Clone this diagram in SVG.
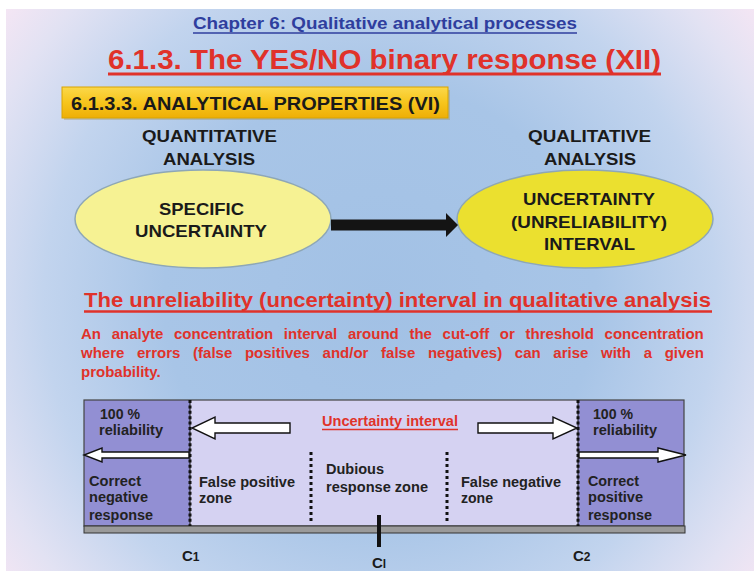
<svg xmlns="http://www.w3.org/2000/svg" width="754" height="571" viewBox="0 0 754 571">
<defs>
<radialGradient id="bg" gradientUnits="userSpaceOnUse" cx="380" cy="300" r="480">
<stop offset="0" stop-color="#a2c1e5"/>
<stop offset="0.45" stop-color="#a8c5e7"/>
<stop offset="0.7" stop-color="#c2d4ee"/>
<stop offset="0.88" stop-color="#e2e2f3"/>
<stop offset="1" stop-color="#f6e6f4"/>
</radialGradient>
<linearGradient id="banner" x1="0" y1="0" x2="0" y2="1">
<stop offset="0" stop-color="#fbd84a"/>
<stop offset="0.5" stop-color="#f7c51c"/>
<stop offset="1" stop-color="#eeae06"/>
</linearGradient>
<style>
.t{font-family:"Liberation Sans",Arial,sans-serif;font-weight:bold}
.red{fill:#e0322a}
.dk{fill:#1a1a1a}
.box{fill:#222;font-size:14px}
.warrow{fill:#fff;stroke:#111;stroke-width:1.4;stroke-linejoin:miter}
.dots{stroke:#111;stroke-width:3;stroke-dasharray:3 3;fill:none}
.cdots{stroke:#111;stroke-width:3;stroke-dasharray:3 2.4;fill:none}
</style>
</defs>
<rect x="0" y="0" width="754" height="571" fill="#fff"/>
<rect x="6" y="9" width="748" height="562" fill="url(#bg)"/>

<g id="titles">
<text class="t" x="193" y="29" font-size="17" fill="#2f3e9e" textLength="384" lengthAdjust="spacingAndGlyphs">Chapter 6: Qualitative analytical processes</text>
<line x1="193" y1="33" x2="577" y2="33" stroke="#2f3e9e" stroke-width="1.6"/>
<text class="t red" x="108" y="69" font-size="28" textLength="553" lengthAdjust="spacingAndGlyphs">6.1.3. The YES/NO binary response (XII)</text>
<line x1="108" y1="74" x2="661" y2="74" stroke="#e0322a" stroke-width="3.2"/>
</g>

<g id="banner">
<rect x="64" y="90" width="386" height="30" fill="#9a8a50" opacity="0.35"/>
<rect x="62" y="87" width="386" height="31" fill="url(#banner)" stroke="#d9a400" stroke-width="1"/>
<text class="t dk" x="71" y="110" font-size="18" textLength="369" lengthAdjust="spacingAndGlyphs">6.1.3.3. ANALYTICAL PROPERTIES (VI)</text>
</g>

<g id="quantitative-label">
<text class="t dk" x="142" y="142" font-size="17" textLength="135" lengthAdjust="spacingAndGlyphs">QUANTITATIVE</text>
<text class="t dk" x="163" y="165" font-size="17" textLength="92" lengthAdjust="spacingAndGlyphs">ANALYSIS</text>
</g>
<g id="qualitative-label">
<text class="t dk" x="528" y="142" font-size="17" textLength="123" lengthAdjust="spacingAndGlyphs">QUALITATIVE</text>
<text class="t dk" x="544" y="165" font-size="17" textLength="92" lengthAdjust="spacingAndGlyphs">ANALYSIS</text>
</g>

<g id="specific-uncertainty">
<ellipse cx="203" cy="219" rx="128" ry="49" fill="#f6f293" stroke="#8ea7b6" stroke-width="1.5"/>
<text class="t dk" x="159" y="215" font-size="17" textLength="85" lengthAdjust="spacingAndGlyphs">SPECIFIC</text>
<text class="t dk" x="135" y="237" font-size="17" textLength="132" lengthAdjust="spacingAndGlyphs">UNCERTAINTY</text>
</g>
<g id="uncertainty-interval">
<ellipse cx="585" cy="219" rx="128" ry="49" fill="#ebe02f" stroke="#8ea7b6" stroke-width="1.5"/>
<text class="t dk" x="523" y="205" font-size="17" textLength="132" lengthAdjust="spacingAndGlyphs">UNCERTAINTY</text>
<text class="t dk" x="511" y="228" font-size="17" textLength="156" lengthAdjust="spacingAndGlyphs">(UNRELIABILITY)</text>
<text class="t dk" x="544" y="250" font-size="17" textLength="91" lengthAdjust="spacingAndGlyphs">INTERVAL</text>
</g>

<g id="connectors">
<polygon points="331,219.5 446,219.5 446,213 458,225 446,237 446,230.5 331,230.5" fill="#141414"/>
</g>

<g id="definition">
<text class="t red" x="84" y="307" font-size="21" textLength="627" lengthAdjust="spacingAndGlyphs">The unreliability (uncertainty) interval in qualitative analysis</text>
<line x1="84" y1="311.5" x2="712" y2="311.5" stroke="#e0322a" stroke-width="2.6"/>
<text class="t red" x="81" y="339" font-size="15" word-spacing="6.5">An analyte concentration interval around the cut-off or threshold concentration</text>
<text class="t red" x="81" y="358" font-size="15" word-spacing="8.5">where errors (false positives and/or false negatives) can arise with a given</text>
<text class="t red" x="81" y="377" font-size="15">probability.</text>
</g>

<g id="interval-scale">
<rect x="84" y="400" width="106" height="126" fill="#928fd3"/>
<rect x="190" y="400" width="388" height="126" fill="#d5d2f2"/>
<rect x="578" y="400" width="106" height="126" fill="#928fd3"/>
<rect x="84" y="400" width="600" height="126" fill="none" stroke="#444" stroke-width="1.2"/>
<rect x="84" y="526" width="601" height="7" fill="#9a9a9a" stroke="#333" stroke-width="1"/>
<line x1="190" y1="400" x2="190" y2="526" stroke="#111" stroke-width="1"/>
<line x1="190" y1="400" x2="190" y2="526" class="cdots"/>
<line x1="578" y1="400" x2="578" y2="526" stroke="#111" stroke-width="1"/>
<line x1="578" y1="400" x2="578" y2="526" class="cdots"/>
<line x1="311" y1="452" x2="311" y2="523" class="dots"/>
<line x1="447" y1="452" x2="447" y2="523" class="dots"/>
<line x1="379" y1="515" x2="379" y2="547" stroke="#111" stroke-width="4"/>

<polygon class="warrow" points="290,423 215,423 215,417 192,428 215,439 215,433 290,433"/>
<polygon class="warrow" points="478,423 553,423 553,417 577,428 553,439 553,433 478,433"/>
<polygon class="warrow" points="189,452 102,452 102,448 84,455 102,462 102,458 189,458"/>
<polygon class="warrow" points="579,452 658,452 658,448 686,455 658,462 658,458 579,458"/>

<text class="t red" x="322" y="426" font-size="14" textLength="136" lengthAdjust="spacingAndGlyphs">Uncertainty interval</text>
<line x1="322" y1="429.5" x2="458" y2="429.5" stroke="#e0322a" stroke-width="1.6"/>

<text class="t box" x="100" y="419" textLength="40" lengthAdjust="spacingAndGlyphs">100 %</text>
<text class="t box" x="99" y="435" textLength="64" lengthAdjust="spacingAndGlyphs">reliability</text>
<text class="t box" x="89" y="486" textLength="52" lengthAdjust="spacingAndGlyphs">Correct</text>
<text class="t box" x="89" y="502" textLength="59" lengthAdjust="spacingAndGlyphs">negative</text>
<text class="t box" x="89" y="520" textLength="64" lengthAdjust="spacingAndGlyphs">response</text>

<text class="t box" x="199" y="487" textLength="96" lengthAdjust="spacingAndGlyphs">False positive</text>
<text class="t box" x="199" y="503" textLength="33" lengthAdjust="spacingAndGlyphs">zone</text>

<text class="t box" x="326" y="474" textLength="58" lengthAdjust="spacingAndGlyphs">Dubious</text>
<text class="t box" x="326" y="492" textLength="102" lengthAdjust="spacingAndGlyphs">response zone</text>

<text class="t box" x="461" y="487" textLength="100" lengthAdjust="spacingAndGlyphs">False negative</text>
<text class="t box" x="461" y="503" textLength="32" lengthAdjust="spacingAndGlyphs">zone</text>

<text class="t box" x="593" y="419" textLength="40" lengthAdjust="spacingAndGlyphs">100 %</text>
<text class="t box" x="593" y="435" textLength="64" lengthAdjust="spacingAndGlyphs">reliability</text>
<text class="t box" x="588" y="486" textLength="51" lengthAdjust="spacingAndGlyphs">Correct</text>
<text class="t box" x="588" y="502" textLength="55" lengthAdjust="spacingAndGlyphs">positive</text>
<text class="t box" x="588" y="520" textLength="64" lengthAdjust="spacingAndGlyphs">response</text>

<text class="t dk" x="182" y="561" font-size="15">C<tspan font-size="12">1</tspan></text>
<text class="t dk" x="573" y="561" font-size="15">C<tspan font-size="12">2</tspan></text>
<text class="t dk" x="372" y="568" font-size="15">C<tspan font-size="12">l</tspan></text>
</g>
</svg>
